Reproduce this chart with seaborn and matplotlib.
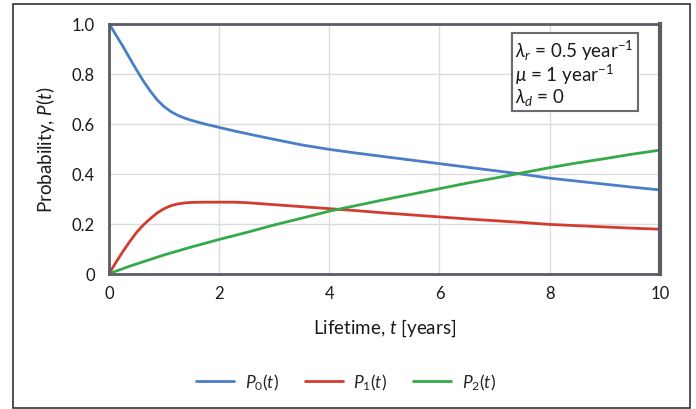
import numpy as np
import pandas as pd
import matplotlib
matplotlib.use("Agg")
import matplotlib.pyplot as plt
from matplotlib.patches import Rectangle
import seaborn as sns

# values
t = [0, 0.125, 0.25, 0.375, 0.5, 0.625, 0.75, 0.875, 1, 1.125, 1.25, 1.375,
     1.5, 1.75, 2, 2.25, 2.5, 3, 3.5, 4, 4.5, 5, 5.5, 6, 6.5, 7, 7.5, 8,
     8.5, 9, 9.5, 10]
p0 = [1.0, 0.955, 0.91, 0.862, 0.815, 0.77, 0.73, 0.695, 0.668, 0.648,
      0.633, 0.622, 0.613, 0.598, 0.585, 0.572, 0.56, 0.537, 0.515, 0.497,
      0.482, 0.468, 0.454, 0.44, 0.426, 0.412, 0.398, 0.382, 0.37, 0.358,
      0.346, 0.335]
p1 = [0.0, 0.045, 0.088, 0.128, 0.165, 0.195, 0.22, 0.243, 0.26, 0.272,
      0.279, 0.283, 0.285, 0.286, 0.286, 0.286, 0.284, 0.276, 0.268, 0.26,
      0.252, 0.243, 0.235, 0.227, 0.219, 0.212, 0.205, 0.197, 0.192, 0.187,
      0.182, 0.178]
p2 = [0.0, 0.01, 0.02, 0.03, 0.039, 0.048, 0.057, 0.066, 0.075, 0.083,
      0.091, 0.099, 0.107, 0.122, 0.137, 0.151, 0.165, 0.195, 0.222, 0.25,
      0.273, 0.296, 0.318, 0.34, 0.362, 0.382, 0.403, 0.424, 0.443, 0.46,
      0.478, 0.494]
series_names = [r"$P_0(t)$", r"$P_1(t)$", r"$P_2(t)$"]
colors = ["#4a7ec6", "#d23c2e", "#34aa4a"]

x_ticks = [0, 2, 4, 6, 8, 10]
y_ticks = [0, 0.2, 0.4, 0.6, 0.8, 1.0]
y_tick_labels = ["0", "0.2", "0.4", "0.6", "0.8", "1.0"]

df = pd.DataFrame({
    "t": t * 3,
    "P": p0 + p1 + p2,
    "series": [series_names[0]] * len(t) + [series_names[1]] * len(t) + [series_names[2]] * len(t),
})

sns.set_theme(style="whitegrid")
plt.rcParams["font.family"] = ["Lato", "DejaVu Sans"]
plt.rcParams["mathtext.fontset"] = "custom"
plt.rcParams["mathtext.rm"] = "Lato"
plt.rcParams["mathtext.it"] = "Lato:italic"

fig = plt.figure(figsize=(6.96, 4.10), dpi=100)
ax = fig.add_axes([0.1566, 0.33, 0.7914, 0.61])

sns.lineplot(data=df, x="t", y="P", hue="series", palette=colors,
             linewidth=2, ax=ax)

ax.set_xlim(0, 10)
ax.set_ylim(0, 1.0)
ax.set_xticks(x_ticks)
ax.set_yticks(y_ticks)
ax.set_yticklabels(y_tick_labels)
ax.tick_params(axis="both", length=0, labelsize=12, colors="#1a1a1a")
ax.tick_params(axis="x", pad=8)
ax.tick_params(axis="y", pad=10)
ax.grid(True, color="#dcdcdc", linewidth=1)
ax.set_facecolor("white")
for sp in ax.spines.values():
    sp.set_visible(True)
    sp.set_color("#5a5c66")
    sp.set_linewidth(2)
ax.spines["right"].set_linewidth(3)

ax.set_xlabel(r"Lifetime, $t$ [years]", fontsize=13.5, labelpad=11, color="#1a1a1a")
ax.set_ylabel(r"Probability, $P(t)$", fontsize=13.5, labelpad=11, color="#1a1a1a")

sns.move_legend(ax, "upper center", bbox_to_anchor=(0.43, -0.33), ncol=3,
                frameon=False, title=None, fontsize=12.5, handlelength=2.2,
                columnspacing=1.5, handletextpad=0.6)

ax.text(0.738, 0.945,
        "$\\lambda_r$ = 0.5 year$^{-1}$\n$\\mu$ = 1 year$^{-1}$\n$\\lambda_d$ = 0",
        transform=ax.transAxes, ha="left", va="top", fontsize=13.5,
        linespacing=1.0, color="#1a1a1a",
        bbox=dict(boxstyle="square,pad=0.2", facecolor="white",
                  edgecolor="#6a6a70", linewidth=1.5))

fig.patches.append(Rectangle((13 / 696, 1 / 410), 677 / 696, 404 / 410,
                             transform=fig.transFigure, fill=False,
                             edgecolor="#333333", linewidth=1.2))

fig.savefig("out.png", dpi=100)
